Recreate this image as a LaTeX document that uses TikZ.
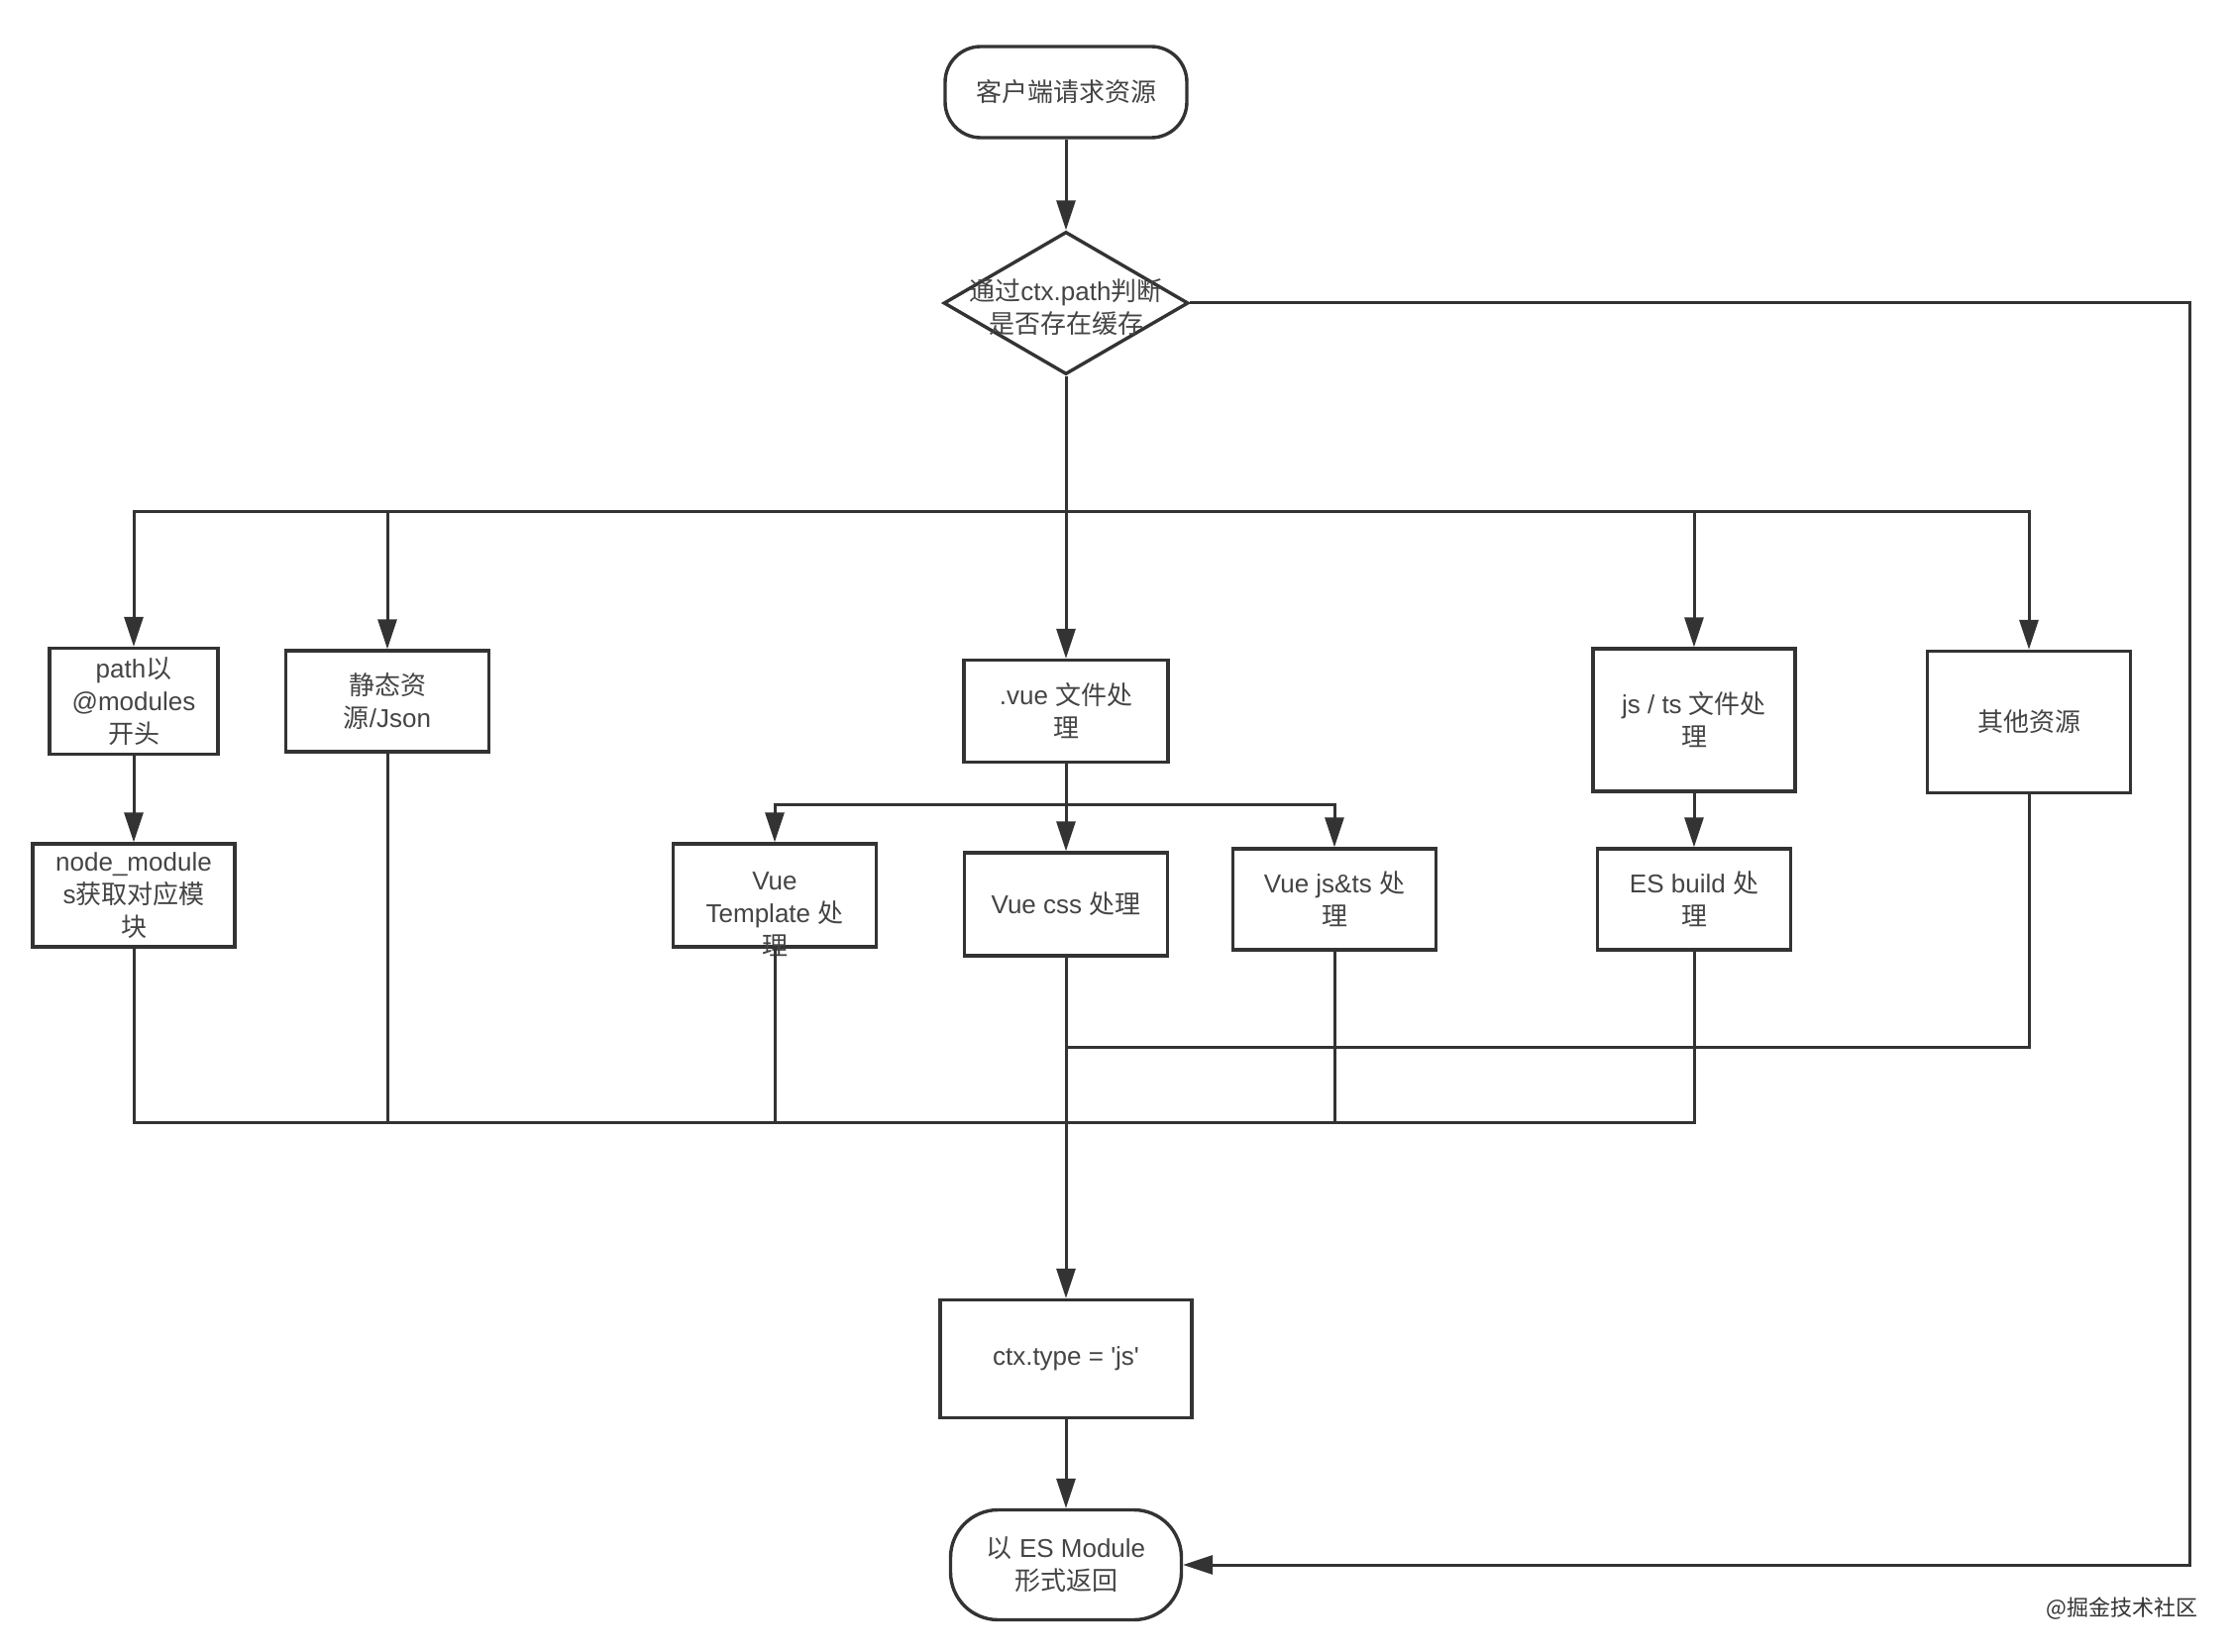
\documentclass[tikz,border=0pt]{standalone}
\usepackage{fontspec}
\setmainfont{Liberation Sans}
\newfontfamily\cjk{Noto Sans CJK SC}
\newcommand\zh[1]{{\cjk #1}}
\usetikzlibrary{arrows.meta,shapes.geometric}
\definecolor{ln}{HTML}{333333}
\definecolor{tx}{HTML}{444444}
\begin{document}
\begin{tikzpicture}[x=0.5pt,y=-0.5pt,
  every node/.style={font=\fontsize{13pt}{16.5pt}\selectfont,text=tx,align=center},
  box/.style={draw=ln,line width=1.7pt,rectangle,inner sep=2pt},
  term/.style={box,rounded corners=#1},
  conn/.style={draw=ln,line width=1.5pt},
  arr/.style={conn,-{Triangle[length=15pt,width=9.5pt]}}]
\useasboundingbox[fill=white] (0,0) rectangle (2254,1668);

\node[term=18pt,minimum width=122pt,minimum height=46pt] (start) at (1076,93) {\zh{客户端请求资源}};
\node[diamond,draw=ln,line width=1.7pt,minimum width=123.5pt,minimum height=72pt,inner sep=0pt] (dia) at (1076,306) {};
\node (diat) at (1076,310) {\zh{通过}ctx.path\zh{判断}\\\zh{是否存在缓存}};

\node[box,minimum width=85pt,minimum height=53.5pt] (p1) at (135,708) {path\zh{以}\\@modules\\\zh{开头}};
\node[box,minimum width=102pt,minimum height=52pt] (nm) at (135,904) {node\_module\\s\zh{获取对应模}\\\zh{块}};
\node[box,minimum width=102.5pt,minimum height=51pt] (st) at (391,708) {\zh{静态资}\\\zh{源}/Json};
\node[box,minimum width=103pt,minimum height=51.5pt] (vue) at (1076,718) {.vue \zh{文件处}\\\zh{理}};
\node[box,minimum width=102.5pt,minimum height=52pt] (vt) at (782,904) {};
\node (vtt) at (782,923) {Vue\\Template \zh{处}\\\zh{理}};
\node[box,minimum width=102.5pt,minimum height=52pt] (vc) at (1076,913) {Vue css \zh{处理}};
\node[box,minimum width=102.5pt,minimum height=51pt] (vj) at (1347,908) {Vue js\&ts \zh{处}\\\zh{理}};
\node[box,minimum width=102pt,minimum height=72pt] (js) at (1710,727) {js / ts \zh{文件处}\\\zh{理}};
\node[box,minimum width=97.5pt,minimum height=51pt] (es) at (1710,908) {ES build \zh{处}\\\zh{理}};
\node[box,minimum width=102.5pt,minimum height=71.5pt] (oth) at (2048,729) {\zh{其他资源}};
\node[box,minimum width=127pt,minimum height=59.5pt] (ctx) at (1076,1372) {ctx.type = \textquotesingle js\textquotesingle};
\node[term=24pt,minimum width=116.5pt,minimum height=55.5pt] (end) at (1076,1580) {\zh{以} ES Module\\\zh{形式返回}};
\node[font=\fontsize{11pt}{11pt}\selectfont\cjk,text=black!80] (wm) at (2142,1624) {@掘金技术社区};

\coordinate (br) at (1076,517);
\coordinate (vbr) at (1076,812);
\coordinate (mlo) at (1076,1133);
\coordinate (mhi) at (1076,1057);
\coordinate (rc) at (2210,1580);

\draw[arr] (start) -- (dia);
\draw[arr] (dia.south) -- (vue.north);
\draw[arr] (br) -| (p1.north);
\draw[arr] (br) -| (st.north);
\draw[arr] (br) -| (js.north);
\draw[arr] (br) -| (oth.north);
\draw[arr] (p1) -- (nm);
\draw[arr] (vue.south) -- (vc.north);
\draw[arr] (vbr) -| (vt.north);
\draw[arr] (vbr) -| (vj.north);
\draw[arr] (js) -- (es);
\draw[conn] (nm.south) |- (mlo);
\draw[conn] (st.south) |- (mlo);
\draw[conn] (vt.south) |- (mlo);
\draw[conn] (vj.south) |- (mlo);
\draw[conn] (es.south) |- (mlo);
\draw[conn] (oth.south) |- (mhi);
\draw[arr] (vc.south) -- (ctx.north);
\draw[arr] (ctx) -- (end);
\draw[arr] (dia.east) -| (rc) -- (end.east);
\end{tikzpicture}
\end{document}
